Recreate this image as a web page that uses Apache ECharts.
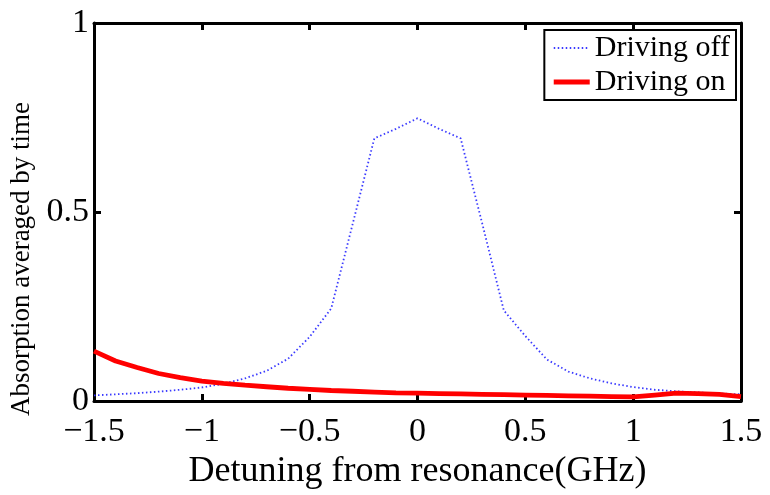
<!DOCTYPE html>
<html>
<head>
<meta charset="utf-8">
<script src="https://cdn.jsdelivr.net/npm/echarts@6/dist/echarts.min.js"></script>
<style>
  html, body { margin: 0; padding: 0; background: #ffffff; }
  #chart { width: 770px; height: 495px; }
</style>
</head>
<body>
<div id="chart"></div>
<script>
// Detuning grid (GHz)
const detuning = [-1.5, -1.4, -1.3, -1.2, -1.1, -1.0, -0.9, -0.8, -0.7, -0.6, -0.5,
                  -0.4, -0.3, -0.2, -0.1, 0.0, 0.1, 0.2, 0.3, 0.4, 0.5,
                  0.6, 0.7, 0.8, 0.9, 1.0, 1.1, 1.2, 1.3, 1.4, 1.5];

// Time-averaged absorption without driving field
const drivingOff = [0.015, 0.018, 0.021, 0.025, 0.030, 0.036, 0.046, 0.060, 0.080, 0.112, 0.170,
                    0.245, 0.470, 0.695, 0.720, 0.748, 0.720, 0.695, 0.470, 0.240, 0.172,
                    0.110, 0.078, 0.060, 0.047, 0.037, 0.030, 0.026, 0.023, 0.020, 0.018];

// Time-averaged absorption with driving field
const drivingOn = [0.132, 0.106, 0.089, 0.073, 0.062, 0.053, 0.047, 0.042, 0.038, 0.034, 0.031,
                   0.028, 0.026, 0.024, 0.022, 0.021, 0.020, 0.019, 0.018, 0.017, 0.016,
                   0.015, 0.014, 0.013, 0.012, 0.011, 0.016, 0.021, 0.020, 0.018, 0.012];

const xTicks = { min: -1.5, max: 1.5, step: 0.5 };
const yTicks = { min: 0, max: 1, step: 0.5 };

const seriesNames = ['Driving off', 'Driving on'];
const xTitle = 'Detuning from resonance(GHz)';
const yTitle = 'Absorption averaged by time';

const serif = 'Liberation Serif, Times New Roman, serif';

function pairs(xs, ys) { return xs.map((x, i) => [x, ys[i]]); }
function fmt(v) {
  const s = String(Math.round(v * 10) / 10);
  return s.replace('-', '\u2212');
}

const offLine = { color: '#3a3aff', width: 1.8, type: [1.5, 2.5] };
const onLine = { color: '#ff0000', width: 4.8, type: 'solid' };

const axisLineStyle = { color: '#000', width: 3 };
const tickStyle = { show: true, inside: true, length: 7, lineStyle: { color: '#000', width: 3 } };

const chart = echarts.init(document.getElementById('chart'), null, { renderer: 'canvas' });
chart.setOption({
  animation: false,
  backgroundColor: '#ffffff',
  grid: { left: 94, right: 29, top: 23, bottom: 84, containLabel: false },
  legend: {
    data: [
      { name: seriesNames[0], lineStyle: offLine },
      { name: seriesNames[1], lineStyle: onLine }
    ],
    orient: 'vertical',
    right: 34,
    top: 30,
    backgroundColor: '#ffffff',
    borderColor: '#000',
    borderWidth: 2,
    borderRadius: 0,
    padding: [3, 6, 3, 7],
    itemGap: 4,
    itemWidth: 36,
    itemHeight: 12,
    itemStyle: { opacity: 0 },
    textStyle: { fontFamily: serif, fontSize: 30, color: '#000' }
  },
  xAxis: [
    {
      type: 'value', min: xTicks.min, max: xTicks.max, interval: xTicks.step,
      position: 'bottom',
      axisLine: { show: true, onZero: false, lineStyle: axisLineStyle },
      axisTick: tickStyle,
      splitLine: { show: false },
      axisLabel: { fontFamily: serif, fontSize: 34, color: '#000', margin: 14, formatter: fmt },
      name: xTitle, nameLocation: 'middle', nameGap: 40,
      nameTextStyle: { fontFamily: serif, fontSize: 36, color: '#000' }
    },
    {
      type: 'value', min: xTicks.min, max: xTicks.max, interval: xTicks.step,
      position: 'top',
      axisLine: { show: true, onZero: false, lineStyle: axisLineStyle },
      axisTick: tickStyle,
      splitLine: { show: false },
      axisLabel: { show: false }
    }
  ],
  yAxis: [
    {
      type: 'value', min: yTicks.min, max: yTicks.max, interval: yTicks.step,
      position: 'left',
      axisLine: { show: true, onZero: false, lineStyle: axisLineStyle },
      axisTick: tickStyle,
      splitLine: { show: false },
      axisLabel: { fontFamily: serif, fontSize: 34, color: '#000', margin: 5, formatter: fmt }
    },
    {
      type: 'value', min: yTicks.min, max: yTicks.max, interval: yTicks.step,
      position: 'right',
      axisLine: { show: true, onZero: false, lineStyle: axisLineStyle },
      axisTick: tickStyle,
      splitLine: { show: false },
      axisLabel: { show: false }
    }
  ],
  graphic: [
    {
      type: 'text',
      x: 22, y: 259,
      rotation: Math.PI / 2,
      style: {
        text: yTitle,
        fontFamily: serif, fontSize: 27, fill: '#000',
        textAlign: 'center', textVerticalAlign: 'middle'
      }
    }
  ],
  series: [
    {
      name: seriesNames[0], type: 'line', data: pairs(detuning, drivingOff),
      showSymbol: false, symbol: 'none', z: 2,
      lineStyle: offLine,
      itemStyle: { color: offLine.color }
    },
    {
      name: seriesNames[1], type: 'line', data: pairs(detuning, drivingOn),
      showSymbol: false, symbol: 'none', z: 3,
      lineStyle: onLine,
      itemStyle: { color: onLine.color }
    }
  ]
});
</script>
</body>
</html>
